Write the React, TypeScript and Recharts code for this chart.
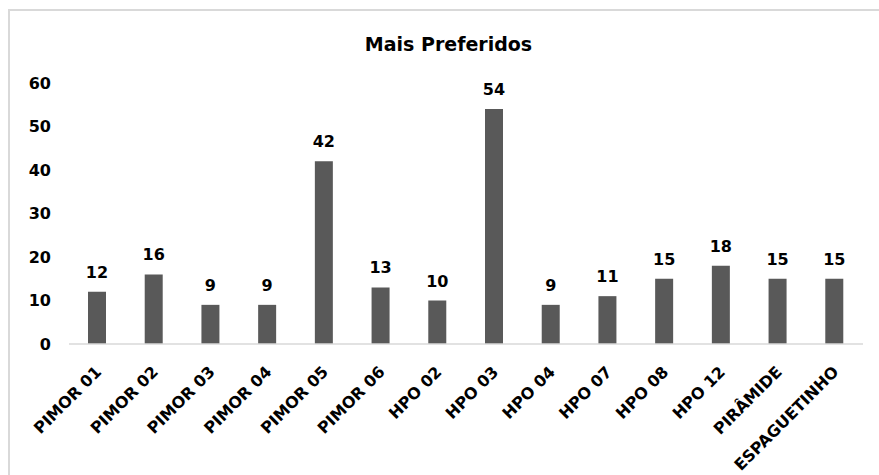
import React from "react";
import { BarChart, Bar, XAxis, YAxis, LabelList } from "recharts";

const categories = [
  "PIMOR 01", "PIMOR 02", "PIMOR 03", "PIMOR 04", "PIMOR 05", "PIMOR 06",
  "HPO 02", "HPO 03", "HPO 04", "HPO 07", "HPO 08", "HPO 12", "PIRÂMIDE", "ESPAGUETINHO",
];
const values = [12, 16, 9, 9, 42, 13, 10, 54, 9, 11, 15, 18, 15, 15];
const yTicks = [0, 10, 20, 30, 40, 50, 60];
const title = "Mais Preferidos";

const data = categories.map((name, i) => ({ name, value: values[i] }));

const FONT = "'DejaVu Sans', sans-serif";

const CategoryTick = (props: any) => {
  const { x, y, payload } = props;
  return (
    <text
      transform={`translate(${x + 5},${y + 29}) rotate(-45)`}
      textAnchor="end"
      fontFamily={FONT}
      fontWeight="bold"
      fontSize={16}
      fill="#000"
    >
      {payload.value}
    </text>
  );
};

export default function App() {
  return (
    <div style={{ position: "absolute", left: 0, top: 0, width: 879, height: 475, background: "#fff", overflow: "hidden" }}>
      <div
        style={{
          position: "absolute",
          left: 8,
          top: 9,
          width: 900,
          height: 500,
          borderTop: "2px solid #d9d9d9",
          borderLeft: "2px solid #d9d9d9",
        }}
      />
      <div
        style={{
          position: "absolute",
          left: 0,
          top: 32,
          width: 879,
          textAlign: "center",
          fontFamily: FONT,
          fontWeight: "bold",
          fontSize: 19,
          lineHeight: "24px",
          color: "#000",
        }}
      >
        <span style={{ position: "relative", left: 9 }}>{title}</span>
      </div>
      <div style={{ position: "absolute", left: 0, top: 0 }}>
        <BarChart
          width={879}
          height={475}
          data={data}
          margin={{ top: 83, right: 16, bottom: 0, left: 0 }}
          barSize={18}
        >
          <XAxis
            dataKey="name"
            interval={0}
            height={131}
            tickLine={false}
            tickSize={0}
            tickMargin={0}
            axisLine={{ stroke: "#d9d9d9", strokeWidth: 1.5 }}
            tick={<CategoryTick />}
          />
          <YAxis
            width={69}
            domain={[0, 60]}
            ticks={yTicks}
            interval={0}
            axisLine={false}
            tickLine={false}
            tickSize={0}
            tickMargin={18}
            tick={{ fontFamily: FONT, fontWeight: "bold", fontSize: 16, fill: "#000" }}
          />
          <Bar dataKey="value" fill="#595959" isAnimationActive={false}>
            <LabelList
              dataKey="value"
              position="top"
              offset={14}
              style={{ fontFamily: FONT, fontWeight: "bold", fontSize: 16, fill: "#000" }}
            />
          </Bar>
        </BarChart>
      </div>
    </div>
  );
}
